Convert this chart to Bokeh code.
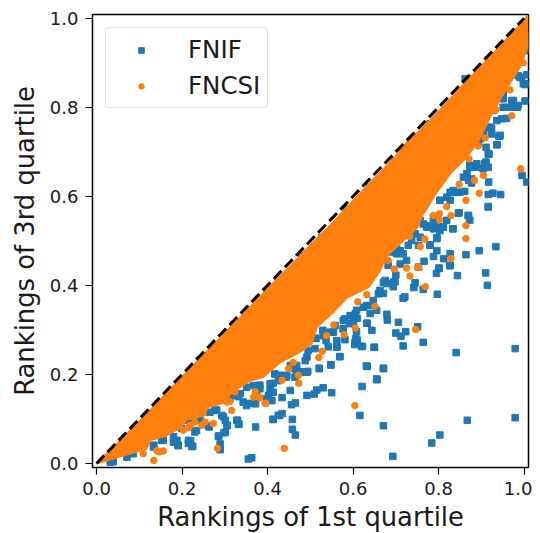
from bokeh.plotting import figure
from bokeh.models import Legend, LegendItem, FixedTicker, NumeralTickFormatter
from bokeh.embed import file_html
from bokeh.resources import INLINE

tick_values = [0.0, 0.2, 0.4, 0.6, 0.8, 1.0]
x_label = "Rankings of 1st quartile"
y_label = "Rankings of 3rd quartile"

# Sparse FNIF points
fnif_pts = [
(.910,.428),(.914,.400),(.844,.422),(.826,.444),(.801,.438),(.795,.427),(.797,.380),(.764,.391),(.745,.406),(.742,.395),
(.721,.374),(.717,.371),(.700,.423),(.679,.335),(.680,.322),(.706,.317),(.751,.307),(.723,.296),(.700,.293),(.712,.286),
(.717,.264),(.764,.272),(.841,.249),(.979,.258),(.867,.097),(.979,.103),(.803,.064),(.784,.046),(.693,.016),(.671,.085),
(.616,.108),(.671,.213),(.633,.218),(.656,.188),(.621,.173),(.650,.261),(.622,.263),(.604,.267),(.569,.240),(.548,.221),
(.521,.213),(.550,.159),(.530,.170),(.515,.165),(.509,.156),(.492,.153),(.465,.136),(.456,.132),(.458,.099),(.458,.077),
(.465,.064),(.434,.112),(.428,.108),(.413,.099),(.434,.148),(.453,.164),(.409,.142),(.494,.207),(.484,.206),(.467,.211),
(.431,.198),(.413,.180),(.406,.165),(.562,.262),(.542,.262),(.513,.281),(.537,.276),(.581,.278),(.608,.296),(.644,.299),
(.633,.315),(.605,.273),(.610,.277),(.577,.303),(.593,.314),(.610,.326),(.640,.337),(.655,.344),(.671,.382),(.694,.397),
(.698,.408),(.679,.404),
(.372,.082),(.363,.013),(.355,.010),(.330,.097),(.333,.088),(.286,.062),(.298,.069),(.289,.031),(.306,.086),(.297,.105),
(.281,.120),(.220,.051),(.225,.039),(.215,.045),(.188,.052),(.191,.041),(.156,.052),(.230,.071),(.264,.082),(.242,.097),
(.211,.101),(.199,.079),(.180,.060),(.134,.041),(.086,.022),(.039,.004),(.367,.135),(.351,.135),(.332,.150),(.312,.146),
(.375,.165),(.402,.153),(.398,.142),(.382,.176),
(.934,.487),(.895,.478),(.864,.469),(.827,.471),(.812,.460),(.827,.445),(.801,.439),(.788,.465),(.766,.454),(.796,.478),
(.780,.491),(.796,.507),(.753,.490),(.833,.527),(.873,.546),(.869,.557),(.848,.563),(.916,.577),(.945,.604),(.927,.607),
(.916,.604),(1.006,.632),(.995,.647),(.917,.632),(.877,.630),(.911,.677),(.916,.695),(.937,.716),(.941,.735),(.924,.740),
(.959,.775),(.948,.774),(1.002,.814),(.984,.800),(.975,.815),(.951,.800),(.951,.826),(1.002,.853),(1.006,.873),(.994,.867),
(1.002,.927),(1.006,.943),(.889,.665),(.873,.669),(.904,.662),(.866,.651),(.877,.639),(.850,.609),(.834,.613),(.827,.591),
(.803,.591),(.788,.553),(.772,.531),(.788,.538),(.811,.531),(.893,.718),(.916,.755),(.803,.523),(.717,.471),(.702,.471),
(.725,.456),(.710,.448),(.671,.471),(.753,.441),(.682,.445),
(.862,.864),(.780,.763),(.698,.680),(.640,.620),(.527,.508),(.480,.467),(.584,.572),
(.675,.411),(.694,.407),(.659,.381),(.647,.355),(.624,.351),(.605,.336),(.581,.325),(.601,.317),(.632,.315),(.577,.302),
(.554,.295),(.529,.299),(.513,.281),(.562,.276),(.606,.280),(.620,.263),(.649,.261),(.562,.261),(.511,.258),(.492,.239),
(.569,.240),(.548,.222),(.521,.214),(.492,.205),(.464,.213),(.444,.194),(.631,.219),(.671,.214),(.655,.190),
(.916,.576),(.834,.527),(.870,.557),(.846,.562),(.803,.531),(.780,.531),(.764,.538),(.796,.505),(.780,.490),(.757,.508),
(.737,.501),(.710,.478),(.827,.609),(.842,.609),(.861,.611),(.873,.665),(.907,.673),(.877,.636),(.916,.665),(.911,.710),
(.918,.695),(.936,.716),(.942,.735),
(.948,.834),(.971,.815),(.979,.800),(.990,.867),(1.002,.851),(1.002,.931),(1.007,.960),(.936,.770),(.920,.755),(.944,.737),
(.905,.744),(.928,.793),
(.032,.003),(.071,.014),(.133,.037),(.152,.052),(.180,.048),(.191,.040),(.215,.052),(.223,.038),(.203,.097),(.219,.100),
(.234,.074),(.265,.115),(.277,.119),(.261,.085),(.293,.108),(.301,.097),(.305,.085),(.328,.097),(.332,.089),(.301,.070),
(.285,.061),(.289,.044),(.320,.153),(.336,.157),(.351,.171),(.367,.175),(.382,.168),(.343,.138),(.351,.130),(.372,.134),
(.398,.145),(.410,.141),(.413,.099),(.425,.108),(.406,.179),(.413,.160),(.425,.186),
(.757,.546),(.772,.534),(.788,.527),(.811,.531),(.819,.546),(.745,.516),(.729,.490),(.702,.482),(.686,.475),(.834,.609),
(.803,.591),(.819,.598),(.780,.606),(.873,.669),(.889,.673),(.858,.643),(.870,.636),
(.963,.800),(.951,.819),(.986,.804),(.998,.853),(.986,.871),(.998,.931),(.924,.752),(.905,.741),(.897,.729),(.951,.838),
(.671,.407),(.663,.389),(.647,.366),(.632,.355),(.608,.344),(.593,.332),(.577,.321),(.558,.310),(.546,.295),(.530,.287),
(.495,.254),(.488,.231),(.468,.220),(.417,.201),(.453,.220),(.480,.205),(.464,.194),(.445,.198),
]
fnif_x = [a for a, b in fnif_pts]
fnif_y = [b for a, b in fnif_pts]

# Sparse FNCSI points
fncsi_pts = [
(.439,.034),(.604,.130),(.746,.301),(.769,.397),(.733,.421),(.725,.439),(.751,.440),(.651,.353),(.605,.304),(.579,.289),
(.538,.287),(.528,.252),(.520,.238),(.460,.227),(.449,.213),(.472,.198),(.473,.180),(.434,.187),(.555,.311),(.632,.379),
(.611,.363),
(.134,.007),(.283,.034),(.273,.090),(.394,.135),(.371,.161),(.381,.148),(.156,.028),(.147,.026),(.203,.075),(.219,.086),
(.246,.086),(.312,.139),(.324,.161),
(.992,.662),(.971,.781),(.909,.731),(.901,.753),(.934,.794),(.967,.839),(.998,.900),(.905,.647),(.884,.636),(.848,.627),
(.895,.607),(.864,.591),(.864,.534),(.864,.505),(.829,.460),(.829,.557),(.819,.577),(.802,.561),(.802,.547),(.788,.557),
(.768,.504),(.757,.487),(.732,.510),(.675,.467),(.682,.456),(.753,.441),(.696,.437),(.871,.684),(.893,.713),
(.109,.022),(.141,.029),(.215,.080),(.230,.093),(.254,.093),(.316,.119),(.305,.138),(.367,.149),(.382,.149),(.396,.135),
]
fncsi_x = [a for a, b in fncsi_pts]
fncsi_y = [b for a, b in fncsi_pts]

# The FNCSI points merge into a solid mass; its outline
band_upper_x = [0.0,.05,.10,.15,.20,.25,.30,.35,.40,.45,.50,.55,.60,.65,.70,.733,.75,.80,.85,.90,.95,1.0,1.008]
band_upper_y = [0.0,.046,.094,.144,.194,.243,.292,.342,.392,.440,.490,.538,.590,.640,.690,.730,.742,.790,.842,.892,.944,.995,1.006]
band_lower_x = [0.0,.063,.117,.125,.164,.195,.211,.254,.258,.305,.312,.359,.390,.429,.468,.503,.515,.554,.585,.636,.663,.677,.700,.717,.750,.764,.772,.793,.827,.857,.890,.920,.951,.990,1.008]
band_lower_y = [0.0,.018,.033,.052,.063,.080,.098,.108,.126,.138,.157,.186,.194,.227,.246,.269,.306,.340,.372,.396,.433,.465,.485,.500,.530,.561,.572,.606,.651,.680,.718,.777,.830,.890,.935]

blue = "#1f77b4"
orange = "#ff7f0e"

p = figure(width=532, height=533, frame_width=436, frame_height=453,
           x_range=(-.0094, 1.0102), y_range=(-.009, 1.0083),
           output_backend="svg", toolbar_location=None,
           min_border_left=92, min_border_top=14, min_border_right=4, min_border_bottom=66)
p.grid.visible = False
p.outline_line_color = "black"
p.outline_line_width = 1.5

for ax in (p.xaxis[0], p.yaxis[0]):
    ax.ticker = FixedTicker(ticks=tick_values)
    ax.formatter = NumeralTickFormatter(format="0.0")
    ax.minor_tick_line_color = None
    ax.axis_line_color = None
    ax.major_tick_line_color = "black"
    ax.major_tick_line_width = 1.2
    ax.major_tick_in = 0
    ax.major_tick_out = 7
    ax.major_label_standoff = 7
    ax.major_label_text_font = "DejaVu Sans"
    ax.major_label_text_font_size = "18px"
    ax.major_label_text_color = "#1a1a1a"
    ax.axis_label_text_font = "DejaVu Sans"
    ax.axis_label_text_font_style = "normal"
    ax.axis_label_text_font_size = "25.8px"
    ax.axis_label_text_color = "#1a1a1a"
    ax.axis_label_standoff = 7
p.xaxis[0].axis_label = x_label
p.xaxis[0].axis_label_standoff = 4
p.yaxis[0].axis_label = y_label
p.yaxis[0].major_label_orientation = "horizontal"

r1 = p.scatter(fnif_x, fnif_y, marker="square", size=6.5, color=blue)
p.patch(band_upper_x + band_lower_x[::-1], band_upper_y + band_lower_y[::-1],
        fill_color=orange, line_color=orange, line_width=2)
r2 = p.scatter(fncsi_x, fncsi_y, marker="circle", size=6.5, color=orange)
p.line([0, 1], [0, 1], line_color="black", line_width=3, line_dash="11 5")

legend = Legend(items=[LegendItem(label="FNIF", renderers=[r1]),
                       LegendItem(label="FNCSI", renderers=[r2])],
                location=(13, 359), orientation="vertical",
                label_text_font="DejaVu Sans", label_text_font_size="24.5px",
                label_text_color="#1a1a1a",
                border_line_color="#cccccc", border_line_width=1.5,
                background_fill_alpha=0.8, glyph_width=56, glyph_height=14,
                label_standoff=19, spacing=7, padding=7, margin=0,
                label_height=24)
if "border_radius" in Legend.properties():
    legend.border_radius = 4
p.add_layout(legend)

open("out.html", "w").write(file_html(p, INLINE))
